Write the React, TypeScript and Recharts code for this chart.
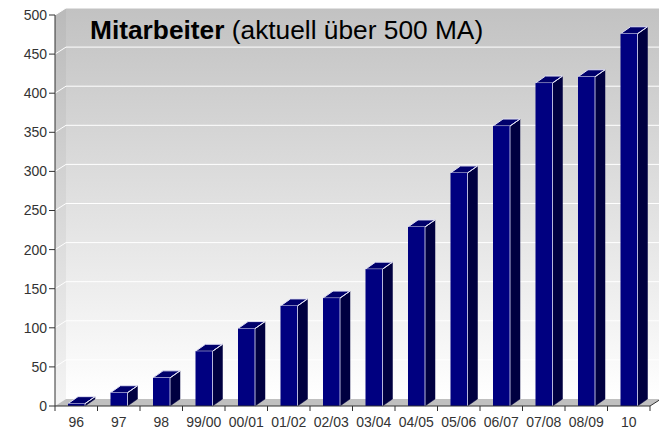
import React from 'react';
import { BarChart, Bar, XAxis, YAxis, CartesianGrid } from 'recharts';

const categories = ['96', '97', '98', '99/00', '00/01', '01/02', '02/03', '03/04', '04/05', '05/06', '06/07', '07/08', '08/09', '10'];
const employees = [3, 17, 36, 70, 99, 128, 138, 175, 229, 298, 358, 413, 421, 476];
const yTicks = [0, 50, 100, 150, 200, 250, 300, 350, 400, 450, 500];
const titleBold = 'Mitarbeiter';
const titleRest = ' (aktuell über 500 MA)';

const data = categories.map((c, i) => ({ cat: c, value: employees[i] }));

const FONT = '"Liberation Sans", Arial, Helvetica, sans-serif';
const DX = 11;
const DY = -7;
const BDX = 10;
const BDY = -7;
const AXIS = '#333333';

function GridLine(props: any) {
  const { x1, y1, x2, index } = props;
  const px = props.x ?? 55;
  const py = props.y ?? 15;
  const pw = props.width ?? 595;
  const ph = props.height ?? 391;
  const bottom = py + ph;
  const isBottom = Math.abs(y1 - bottom) < 0.5;
  return (
    <g>
      {index === 0 && (
        <g>
          <rect x={px + DX} y={py + DY} width={pw} height={ph} fill="url(#backGrad)" />
          <polygon
            points={`${px},${py} ${px + DX},${py + DY} ${px + DX},${bottom + DY} ${px},${bottom}`}
            fill="url(#sideGrad)"
          />
          <polygon
            points={`${px},${bottom} ${px + DX},${bottom + DY} ${px + pw + DX},${bottom + DY} ${px + pw},${bottom}`}
            fill="#c0c0c0"
          />
        </g>
      )}
      {!isBottom && (
        <g>
          <line x1={x1 + DX} y1={y1 + DY} x2={x2 + DX} y2={y1 + DY} stroke="#ffffff" strokeWidth={1} />
          <line x1={x1} y1={y1} x2={x1 + DX} y2={y1 + DY} stroke="#ffffff" strokeWidth={1} />
        </g>
      )}
    </g>
  );
}

function Bar3D(props: any) {
  const { x, y, width, height } = props;
  if (x == null || y == null || !width) return null;
  const h = Math.max(height, 0);
  return (
    <g>
      <polygon
        points={`${x + width},${y} ${x + width + BDX},${y + BDY} ${x + width + BDX},${y + h + BDY} ${x + width},${y + h}`}
        fill="#000040"
        stroke="#000040"
        strokeWidth={0.5}
      />
      <polygon
        points={`${x},${y} ${x + BDX},${y + BDY} ${x + width + BDX},${y + BDY} ${x + width},${y}`}
        fill="#00006c"
        stroke="#e0e0f4"
        strokeWidth={1}
      />
      <rect x={x} y={y} width={width} height={h} fill="#000080" />
      <line x1={x + width} y1={y} x2={x + width} y2={y + h} stroke="#b8b8dc" strokeWidth={1} />
      <line x1={x + width} y1={y} x2={x + width + BDX} y2={y + BDY} stroke="#e0e0f4" strokeWidth={1} />
    </g>
  );
}

function XTick(props: any) {
  const { x, y, payload, index, visibleTicksCount } = props;
  const half = payload && payload.offset ? payload.offset : 21.25;
  const last = visibleTicksCount ? index === visibleTicksCount - 1 : index === categories.length - 1;
  return (
    <g>
      <line x1={x - half} y1={y} x2={x - half} y2={y + 5} stroke={AXIS} strokeWidth={1} />
      {last && (
        <g>
          <line x1={x + half} y1={y} x2={x + half} y2={y + 5} stroke={AXIS} strokeWidth={1} />
          <line x1={x + half} y1={y} x2={x + half + DX} y2={y + DY} stroke={AXIS} strokeWidth={1} />
        </g>
      )}
      <text x={x} y={y + 21} textAnchor="middle" fontSize={14} fill={AXIS} fontFamily={FONT}>
        {payload.value}
      </text>
    </g>
  );
}

export default function App() {
  return (
    <div style={{ position: 'absolute', left: 0, top: 0, width: 659, height: 433, background: '#ffffff' }}>
      <svg width={0} height={0} style={{ position: 'absolute' }}>
        <defs>
          <linearGradient id="backGrad" x1="0" y1="0" x2="0" y2="1">
            <stop offset="0%" stopColor="#c2c2c2" />
            <stop offset="100%" stopColor="#ffffff" />
          </linearGradient>
          <linearGradient id="sideGrad" x1="0" y1="0" x2="0" y2="1">
            <stop offset="0%" stopColor="#bababa" />
            <stop offset="100%" stopColor="#f4f4f4" />
          </linearGradient>
        </defs>
      </svg>
      <BarChart
        width={659}
        height={433}
        data={data}
        margin={{ top: 15, right: 9, left: 0, bottom: 0 }}
        barCategoryGap={0}
      >
        <CartesianGrid horizontal={(p: any) => <GridLine {...p} />} vertical={false} />
        <XAxis
          dataKey="cat"
          height={27}
          interval={0}
          tickLine={false}
          tickSize={0}
          tickMargin={0}
          axisLine={{ stroke: AXIS, strokeWidth: 1 }}
          tick={(p: any) => <XTick {...p} />}
        />
        <YAxis
          width={55}
          domain={[0, 500]}
          ticks={yTicks}
          interval={0}
          tickSize={6}
          tickMargin={2}
          axisLine={{ stroke: AXIS, strokeWidth: 1 }}
          tickLine={{ stroke: AXIS, strokeWidth: 1 }}
          tick={{ fontSize: 14, fill: AXIS, fontFamily: FONT }}
        />
        <Bar dataKey="value" barSize={17} isAnimationActive={false} shape={(p: any) => <Bar3D {...p} />} />
      </BarChart>
      <svg width={659} height={433} style={{ position: 'absolute', left: 0, top: 0, pointerEvents: 'none' }}>
        <text x={90} y={39} fontSize={26.3} fill="#000000" fontFamily={FONT} style={{ whiteSpace: 'pre' }}>
          <tspan fontWeight="bold">{titleBold}</tspan>
          <tspan>{titleRest}</tspan>
        </text>
      </svg>
    </div>
  );
}
